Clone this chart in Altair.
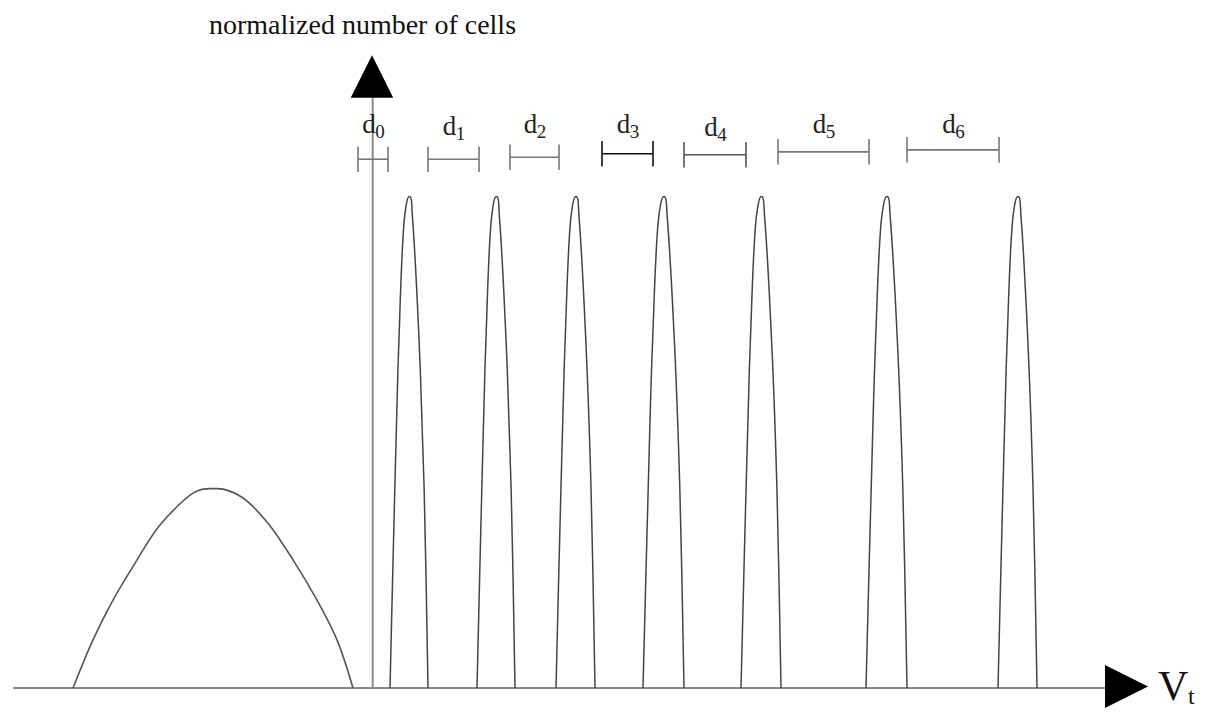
import altair as alt
import pandas as pd

# ---- data (x in Vt units, y in normalized cell count) ----
# erased-state distribution (wide hump)
erased_x = [73, 93, 113, 132, 160, 193, 203, 213, 223, 243, 267, 293, 317, 337, 353]
erased_y = [0.0, 0.098, 0.179, 0.244, 0.332, 0.397, 0.405, 0.406, 0.405, 0.387, 0.338, 0.261, 0.179, 0.098, 0.0]

# programmed-state peaks: left and right foot of each narrow peak
peak_left = [390, 477, 556, 643, 741, 866, 998]
peak_right = [428, 515, 595, 684, 781, 907, 1037]
# shape of one narrow peak: fraction of its width from the left foot, and height
peak_shape_frac = [0.0, 0.128, 0.231, 0.385, 0.487, 0.538, 0.590, 0.769, 0.897, 1.0]
peak_shape_h = [0.0, 0.41, 0.70, 0.96, 1.0, 1.0, 0.96, 0.70, 0.41, 0.0]

# distance intervals d0..d6
d_sub = ["0", "1", "2", "3", "4", "5", "6"]
d_start = [358, 428, 510, 602, 684, 778, 907]
d_end = [388, 479, 559, 653, 746, 869, 999]
d_level = [1.077, 1.077, 1.081, 1.088, 1.086, 1.092, 1.096]
d_label_level = [1.130, 1.126, 1.130, 1.130, 1.124, 1.130, 1.130]
d_color = ["#777777", "#777777", "#777777", "#111111", "#555555", "#777777", "#777777"]

# axes
x_axis_start, x_axis_end = 13, 1106
y_axis_x, y_axis_top = 372.7, 1.2016
title_text = "normalized number of cells"

# ---- build tables ----
erased_df = pd.DataFrame({"x": erased_x, "y": erased_y, "i": range(len(erased_x))})

rows = []
for p, (l, r) in enumerate(zip(peak_left, peak_right)):
    for i, (f, h) in enumerate(zip(peak_shape_frac, peak_shape_h)):
        rows.append({"peak": p, "i": i, "x": l + f * (r - l), "y": h})
peaks_df = pd.DataFrame(rows)

d_df = pd.DataFrame({"sub": d_sub, "x": d_start, "x2": d_end, "y": d_level,
                     "ly": d_label_level, "col": d_color})
d_df["xc"] = (d_df["x"] + d_df["x2"]) / 2
d_df["lbl"] = "d"
ends_df = pd.concat([
    d_df[["x", "y", "col"]],
    d_df[["x2", "y", "col"]].rename(columns={"x2": "x"}),
])

xs = alt.Scale(domain=[8, 1197], nice=False, zero=False)
ys = alt.Scale(domain=[-0.04277, 1.38493], nice=False, zero=False)
X = lambda f="x": alt.X(f + ":Q", scale=xs, axis=None)
Y = lambda f="y": alt.Y(f + ":Q", scale=ys, axis=None)

serif = "Liberation Serif"

axis_df = pd.DataFrame({"x": [x_axis_start], "x2": [x_axis_end], "y": [0.0]})
x_axis = alt.Chart(axis_df).mark_rule(color="#8a8a8a", strokeWidth=2).encode(
    x=X(), x2="x2:Q", y=Y())
yaxis_df = pd.DataFrame({"x": [y_axis_x], "y": [0.0], "y2": [y_axis_top]})
y_axis = alt.Chart(yaxis_df).mark_rule(color="#8a8a8a", strokeWidth=2).encode(
    x=X(), y=Y(), y2="y2:Q")

up_df = pd.DataFrame({"x": [y_axis_x - 0.7], "y": [1.2454]})
up_arrow = alt.Chart(up_df).mark_point(
    shape="M-1,1L1,1L0,-1Z", filled=True, color="black", opacity=1, size=1800
).encode(x=X(), y=Y())
right_df = pd.DataFrame({"x": [1126.5], "y": [0.003]})
right_arrow = alt.Chart(right_df).mark_point(
    shape="M-1,-1L1,0L-1,1Z", filled=True, color="black", opacity=1, size=1850
).encode(x=X(), y=Y())

erased = alt.Chart(erased_df).mark_line(
    color="#555555", strokeWidth=1.6, interpolate="catmull-rom").encode(
    x=X(), y=Y(), order="i:Q")

peaks = alt.Chart(peaks_df).mark_line(
    color="#444444", strokeWidth=1.5, interpolate="catmull-rom").encode(
    x=X(), y=Y(), detail="peak:N", order="i:Q")

bars = alt.Chart(d_df).mark_rule(strokeWidth=1.6).encode(
    x=X(), x2="x2:Q", y=Y(), color=alt.Color("col:N", scale=None))
ends = alt.Chart(ends_df).transform_calculate(
    y1="datum.y - 0.026", y2="datum.y + 0.026").mark_rule(strokeWidth=1.6).encode(
    x=X(), y=Y("y1"), y2="y2:Q", color=alt.Color("col:N", scale=None))

d_text = alt.Chart(d_df).mark_text(
    font=serif, fontSize=27, baseline="alphabetic", align="center", dx=-4,
    color="#222222").encode(x=X("xc"), y=Y("ly"), text="lbl:N")
d_subtext = alt.Chart(d_df).mark_text(
    font=serif, fontSize=19, baseline="alphabetic", align="center", dx=7, dy=5,
    color="#222222").encode(x=X("xc"), y=Y("ly"), text="sub:N")

title_df = pd.DataFrame({"x": [362.5], "y": [1.3320], "t": [title_text]})
title = alt.Chart(title_df).mark_text(
    font=serif, fontSize=28, baseline="alphabetic", align="center",
    color="#111111").encode(x=X(), y=Y(), text="t:N")

v_df = pd.DataFrame({"x": [1158], "y": [-0.0244], "t": ["V"]})
v_text = alt.Chart(v_df).mark_text(
    font=serif, fontSize=42, baseline="alphabetic", align="left",
    color="#111111").encode(x=X(), y=Y(), text="t:N")
t_df = pd.DataFrame({"x": [1188], "y": [-0.0325], "t": ["t"]})
t_text = alt.Chart(t_df).mark_text(
    font=serif, fontSize=24, baseline="alphabetic", align="left",
    color="#111111").encode(x=X(), y=Y(), text="t:N")

chart = alt.layer(
    x_axis, y_axis, erased, peaks, bars, ends, up_arrow, right_arrow,
    d_text, d_subtext, title, v_text, t_text
).properties(
    width=1189, height=701, padding=0, background="white",
    autosize=alt.AutoSizeParams(type="none")
).configure_view(strokeWidth=0, stroke="transparent")

chart.save("out.html", embed_options={"renderer": "svg", "actions": False})
